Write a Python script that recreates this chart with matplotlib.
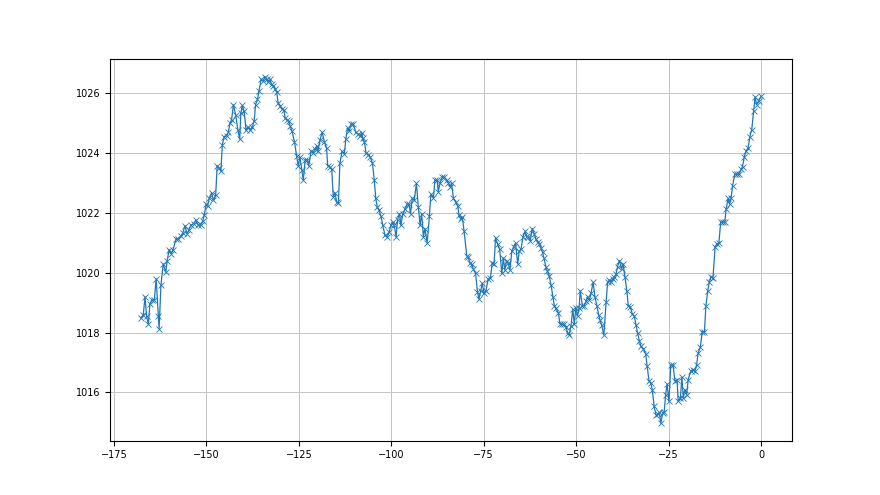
import matplotlib
matplotlib.use("Agg")
import matplotlib.pyplot as plt
import numpy as np

# hours before now / pressure (hPa) in four stretches
hours_a = [-167.7,-167.1,-166.6,-166.2,-165.7,-165.3,-164.8,-164.1,-163.6,-163.0,-162.8,-162.3,-161.7,-161.0,-160.6,
           -160.1,-159.6,-159.0,-158.2,-157.6,-157.0,-156.4,-155.8,-155.3,-154.7,-154.2,-153.4,-152.8,-152.2,-151.6,
           -151.0,-150.6,-150.1,-149.7,-149.2,-148.6,-148.1,-147.5,-147.1,-146.6,-146.1,-145.7,-145.2,-144.5,-144.1,
           -143.6,-143.2,-142.7,-142.1,-141.5,-141.0,-140.7,-140.3,-139.8,-139.3,-138.7,-138.2,-137.6,-137.1,-136.7,
           -136.2,-135.8,-135.2,-134.6,-134.2,-133.7,-133.3,-132.8,-132.4,-131.9,-131.5,-131.0,-130.6,-130.1,-129.6,
           -129.1,-128.7,-128.3,-127.8,-127.3,-126.9,-126.2,-125.6,-125.2,-124.7]
press_a = [1018.50,1018.59,1019.20,1018.56,1018.28,1018.95,1019.09,1019.09,1019.80,1018.56,1018.13,1019.59,1020.30,1020.02,1020.41,
           1020.78,1020.64,1020.78,1021.14,1021.12,1021.22,1021.33,1021.58,1021.31,1021.44,1021.60,1021.65,1021.77,1021.59,1021.59,
           1021.73,1021.92,1022.29,1022.23,1022.51,1022.68,1022.42,1022.60,1023.58,1023.52,1023.41,1024.28,1024.56,1024.59,1024.70,
           1025.01,1025.12,1025.62,1025.29,1024.79,1024.47,1025.33,1025.60,1025.40,1024.79,1024.88,1024.79,1024.88,1025.07,1025.63,
           1025.80,1026.08,1026.47,1026.41,1026.56,1026.49,1026.38,1026.47,1026.30,1026.25,1026.16,1026.04,1025.69,1025.57,1025.48,
           1025.46,1025.18,1025.12,1025.07,1024.90,1024.76,1024.39,1023.91,1023.58,1023.87]

hours_b = [-124.2,-123.8,-123.3,-122.7,-122.3,-121.7,-121.1,-120.6,-120.2,-119.8,-119.3,-118.7,-118.1,-117.5,-117.2,
           -116.7,-116.1,-115.7,-115.2,-114.8,-114.3,-113.9,-113.3,-112.7,-112.3,-111.8,-111.4,-110.9,-110.3,-109.6,
           -109.1,-108.5,-108.0,-107.7,-107.3,-106.8,-106.2,-105.7,-105.1,-104.6,-104.2,-103.8,-103.3,-102.8,-102.3,
           -101.7,-101.1,-100.6,-100.1,-99.6,-99.2,-98.7,-98.3,-97.8,-97.4,-96.9,-96.3,-95.7,-95.2,-94.8,
           -94.3,-93.8,-93.2,-92.7,-92.2,-91.8,-91.3,-90.9,-90.3,-89.7,-89.3,-88.6,-88.2,-87.6,-87.3,
           -86.8,-86.2,-85.7,-85.0,-84.6,-84.1,-83.7,-83.2,-82.6,-82.0,-81.7]
press_b = [1023.44,1023.10,1023.78,1023.78,1023.58,1024.08,1024.02,1024.14,1024.25,1024.09,1024.43,1024.70,1024.39,1024.17,1023.58,
           1023.55,1023.46,1022.54,1022.68,1022.37,1022.32,1023.67,1024.06,1023.98,1024.47,1024.85,1024.73,1024.98,1024.98,1024.70,
           1024.65,1024.59,1024.68,1024.51,1024.39,1024.00,1023.95,1023.87,1023.67,1023.10,1022.49,1022.21,1022.09,1021.89,1021.59,
           1021.25,1021.20,1021.36,1021.61,1021.70,1021.59,1021.20,1021.78,1021.98,1021.59,1021.96,1022.12,1022.30,1022.30,1021.98,
           1022.49,1022.43,1022.99,1022.21,1021.59,1021.98,1021.20,1021.48,1021.00,1021.89,1022.63,1022.51,1023.10,1023.10,1022.71,
           1023.01,1023.22,1023.20,1023.10,1023.01,1022.88,1022.99,1022.49,1022.37,1022.23,1021.93]

hours_c = [-81.2,-80.8,-80.3,-79.6,-79.2,-78.7,-78.3,-77.8,-77.2,-76.7,-76.3,-75.8,-75.4,-74.9,-74.4,
           -73.8,-73.2,-72.7,-72.2,-71.8,-71.2,-70.7,-70.1,-69.7,-69.3,-68.8,-68.4,-67.9,-67.4,-66.9,
           -66.4,-65.8,-65.4,-64.9,-64.4,-63.8,-63.4,-62.9,-62.4,-61.9,-61.3,-60.9,-60.4,-60.0,-59.5,
           -59.1,-58.7,-58.2,-57.8,-57.3,-56.8,-56.3,-55.9,-55.5,-54.8,-54.4,-53.9,-53.3,-52.8,-52.3,
           -51.9,-51.4,-50.9,-50.5,-50.1,-49.6,-49.2,-48.9,-48.3,-47.8,-47.3,-46.9,-46.4,-46.0,-45.4,
           -44.9,-44.4,-43.9,-43.5,-43.1,-42.5,-41.9,-41.5,-41.0,-40.6,-40.1,-39.7,-39.2,-38.8,-38.3]
press_c = [1021.81,1021.87,1021.39,1020.58,1020.52,1020.32,1020.28,1020.13,1019.98,1019.37,1019.12,1019.40,1019.65,1019.31,1019.40,
           1019.79,1019.83,1020.32,1020.30,1021.18,1020.95,1020.80,1019.98,1020.50,1020.10,1020.41,1020.32,1020.10,1020.72,1020.88,
           1020.99,1020.30,1020.72,1020.80,1021.20,1021.39,1021.22,1021.20,1021.08,1021.48,1021.29,1021.14,1021.03,1020.97,1020.84,
           1020.69,1020.49,1020.21,1020.07,1019.91,1019.60,1019.20,1018.90,1018.81,1018.67,1018.30,1018.28,1018.28,1018.20,1018.00,
           1017.92,1018.22,1018.78,1018.28,1018.82,1018.56,1018.82,1019.40,1018.90,1018.90,1019.06,1019.20,1019.09,1019.31,1019.68,
           1019.18,1018.90,1018.59,1018.41,1018.26,1017.92,1019.01,1019.68,1019.76,1019.68,1019.79,1019.85,1019.96,1020.21,1020.41]

hours_d = [-37.7,-37.3,-36.8,-36.3,-35.9,-35.4,-34.8,-34.3,-33.8,-33.4,-32.9,-32.5,-31.8,-31.2,-30.8,
           -30.3,-29.8,-29.4,-28.9,-28.4,-27.9,-27.5,-27.1,-26.6,-26.2,-25.8,-25.4,-24.9,-24.4,-23.8,
           -23.3,-22.7,-22.4,-21.8,-21.4,-21.0,-20.6,-20.1,-19.7,-19.0,-18.5,-17.9,-17.4,-17.0,-16.4,
           -15.9,-15.3,-14.9,-14.4,-14.0,-13.5,-13.0,-12.4,-11.9,-11.4,-10.9,-10.4,-9.8,-9.4,-8.9,
           -8.5,-8.1,-7.7,-7.1,-6.6,-6.0,-5.4,-5.0,-4.5,-4.0,-3.5,-3.0,-2.5,-2.0,-1.6,
           -1.2,-0.6,0.0]
press_d = [1020.13,1020.30,1019.87,1019.40,1018.90,1018.87,1018.62,1018.56,1018.26,1018.00,1017.72,1017.55,1017.44,1017.29,1016.88,
           1016.39,1016.31,1016.09,1015.53,1015.25,1015.27,1015.33,1014.97,1015.30,1015.33,1015.92,1016.28,1015.70,1016.91,1016.93,
           1016.39,1016.40,1015.72,1015.81,1016.51,1015.81,1016.09,1015.92,1016.43,1016.71,1016.76,1016.71,1016.93,1017.32,1017.52,
           1018.03,1018.03,1018.90,1019.40,1019.68,1019.87,1019.83,1020.88,1020.97,1020.99,1021.70,1021.70,1021.70,1022.15,1022.49,
           1022.30,1022.49,1022.90,1023.30,1023.30,1023.30,1023.46,1023.55,1023.89,1024.09,1024.17,1024.56,1024.79,1025.40,1025.89,
           1025.63,1025.76,1025.90]

hours = np.array(hours_a + hours_b + hours_c + hours_d)
press = np.array(press_a + press_b + press_c + press_d)

fig, ax = plt.subplots(figsize=(8.8, 4.95), dpi=100)
ax.plot(hours, press, marker='x', markersize=4, markeredgewidth=0.6,
        linewidth=0.9, color='#1f77b4')
ax.grid(True, color='#c4c4c4', linewidth=0.7)
ax.tick_params(labelsize=7)

fig.savefig("out.png", dpi=100)
